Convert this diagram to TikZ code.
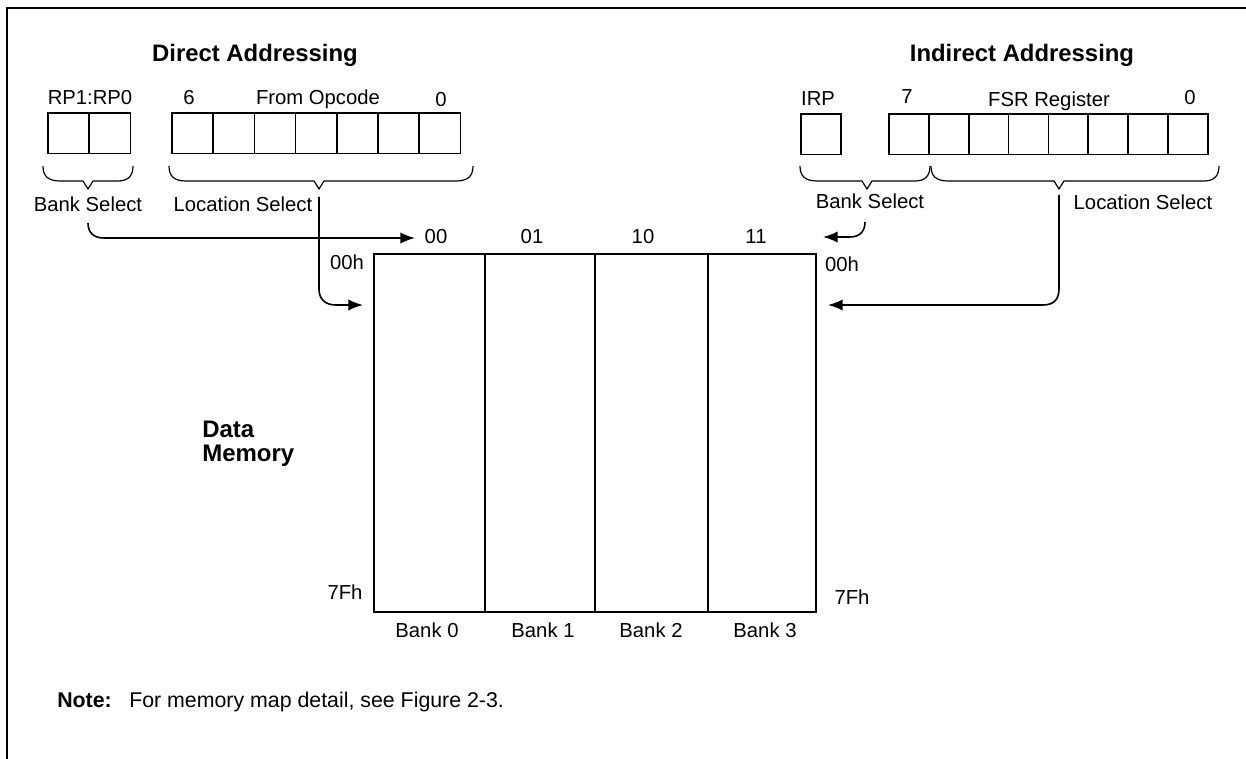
\documentclass[tikz,border=0pt]{standalone}
\usepackage{fontspec}
\setmainfont{Liberation Sans}
\usetikzlibrary{arrows.meta, positioning}

\begin{document}
\begin{tikzpicture}[x=0.75pt, y=-0.75pt, node distance=0pt]
\tikzset{
    regcell/.style={rectangle, draw=black, line width=1.3pt, outer sep=0pt, inner sep=0pt, minimum height=30.4pt},
    opcell/.style={regcell, minimum width=30.9pt},
    fsrcell/.style={regcell, minimum width=29.9pt},
    membank/.style={rectangle, draw=black, line width=1.3pt, outer sep=0pt, inner sep=0pt, minimum height=268.5pt},
    mylabel/.style={font=\fontsize{15.2}{18}\selectfont, inner sep=0pt},
    mytitle/.style={font=\fontsize{17.9}{22}\selectfont\bfseries, inner sep=0pt},
    mybrace/.style={draw=black, line width=0.9pt},
    myarrow/.style={-{Latex[length=11pt, width=8.5pt]}, draw=black, line width=1.2pt}
}
\useasboundingbox (0,0) rectangle (1246,759);
\draw[line width=1.5pt] (1246,8) -- (7,8) -- (7,759);

\node[mytitle] (direct_title) at (255,55) {Direct Addressing};
\node[mytitle] (indirect_title) at (1022,55) {Indirect Addressing};

% direct addressing registers
\node[mylabel] (rp_lbl) at (90,98) {RP1:RP0};
\node[opcell, anchor=north west] (rp1) at (48,113) {};
\node[opcell, right=of rp1] (rp0) {};
\node[mylabel] (op_hi) at (189,98) {6};
\node[mylabel] (op_lbl) at (318,99) {From Opcode};
\node[mylabel] (op_lo) at (441,100) {0};
\node[opcell, anchor=north west] (op6) at (172,113) {};
\node[opcell, right=of op6] (op5) {};
\node[opcell, right=of op5] (op4) {};
\node[opcell, right=of op4] (op3) {};
\node[opcell, right=of op3] (op2) {};
\node[opcell, right=of op2] (op1) {};
\node[opcell, right=of op1] (op0) {};

% indirect addressing registers
\node[mylabel] (irp_lbl) at (818,99) {IRP};
\node[fsrcell, anchor=north west] (irp) at (801,114) {};
\node[mylabel] (fsr_hi) at (907,97) {7};
\node[mylabel] (fsr_lbl) at (1049,101) {FSR Register};
\node[mylabel] (fsr_lo) at (1190,98) {0};
\node[fsrcell, anchor=north west] (fsr7) at (889,114) {};
\node[fsrcell, right=of fsr7] (fsr6) {};
\node[fsrcell, right=of fsr6] (fsr5) {};
\node[fsrcell, right=of fsr5] (fsr4) {};
\node[fsrcell, right=of fsr4] (fsr3) {};
\node[fsrcell, right=of fsr3] (fsr2) {};
\node[fsrcell, right=of fsr2] (fsr1) {};
\node[fsrcell, right=of fsr1] (fsr0) {};

% braces
\draw[mybrace] (43,166) .. controls (43,176) and (48,181) .. (60,181) -- (83,181) -- (88,189) -- (93,181) -- (118,181) .. controls (128,181) and (133,176) .. (133,166);
\draw[mybrace] (169,166) .. controls (169,176) and (174,181) .. (186,181) -- (314,181) -- (319,189) -- (324,181) -- (456,181) .. controls (468,181) and (473,176) .. (473,166);
\draw[mybrace] (800,166) .. controls (800,176) and (805,181) .. (817,181) -- (862,181) -- (867,189) -- (872,181) -- (915,181) .. controls (925,181) and (930,176) .. (930,166);
\draw[mybrace] (931,166) .. controls (931,176) and (936,181) .. (948,181) -- (1054,181) -- (1059,189) -- (1064,181) -- (1204,181) .. controls (1214,181) and (1219,176) .. (1219,166);

\node[mylabel] (bank_sel_l) at (88,204) {Bank Select};
\node[mylabel] (loc_sel_l) at (243,204) {Location Select};
\node[mylabel] (bank_sel_r) at (870,201) {Bank Select};
\node[mylabel] (loc_sel_r) at (1143,202) {Location Select};

% memory
\node[membank, minimum width=83.3pt, anchor=north west] (bank0) at (374,254) {};
\node[membank, minimum width=82.2pt, right=of bank0] (bank1) {};
\node[membank, minimum width=84.8pt, right=of bank1] (bank2) {};
\node[membank, minimum width=81pt, right=of bank2] (bank3) {};

\node[mylabel] (col00) at (436,237) {00};
\node[mylabel] (col01) at (532,237) {01};
\node[mylabel] (col10) at (643,237) {10};
\node[mylabel] (col11) at (756,237) {11};
\node[mylabel] (top_l) at (347,262) {00h};
\node[mylabel] (top_r) at (842,264) {00h};
\node[mylabel] (end_l) at (345,592) {7Fh};
\node[mylabel] (end_r) at (852,597) {7Fh};
\node[mylabel] (name0) at (427,630) {Bank 0};
\node[mylabel] (name1) at (543,630) {Bank 1};
\node[mylabel] (name2) at (651,630) {Bank 2};
\node[mylabel] (name3) at (765,630) {Bank 3};

\node[mylabel, font=\fontsize{18}{18}\selectfont\bfseries, align=left, anchor=west] (data_mem) at (202,444) {Data\\Memory};
\node[mylabel, font=\fontsize{16}{18}\selectfont\bfseries, anchor=base west] (note_lbl) at (57,707) {Note:};
\node[mylabel, font=\fontsize{16}{18}\selectfont, anchor=base west] (note_txt) at (129,707) {For memory map detail, see Figure 2-3.};

% connectors
\coordinate (bank_l_from) at (88,223);
\coordinate (bank_l_to) at (415,238);
\coordinate (loc_l_from) at (319,197);
\coordinate (loc_l_to) at (363,305);
\coordinate (bank_r_from) at (865,222);
\coordinate (bank_r_to) at (823,237);
\coordinate (loc_r_from) at (1059,195);
\coordinate (loc_r_to) at (828,305);
\draw[myarrow] (bank_l_from) .. controls (88,232) and (93,238) .. (104,238) -- (bank_l_to);
\draw[myarrow] (loc_l_from) -- (319,289) .. controls (319,299) and (325,305) .. (336,305) -- (loc_l_to);
\draw[myarrow] (bank_r_from) .. controls (865,231) and (860,237) .. (850,237) -- (bank_r_to);
\draw[myarrow] (loc_r_from) -- (1059,289) .. controls (1059,299) and (1054,305) .. (1043,305) -- (loc_r_to);
\end{tikzpicture}
\end{document}
